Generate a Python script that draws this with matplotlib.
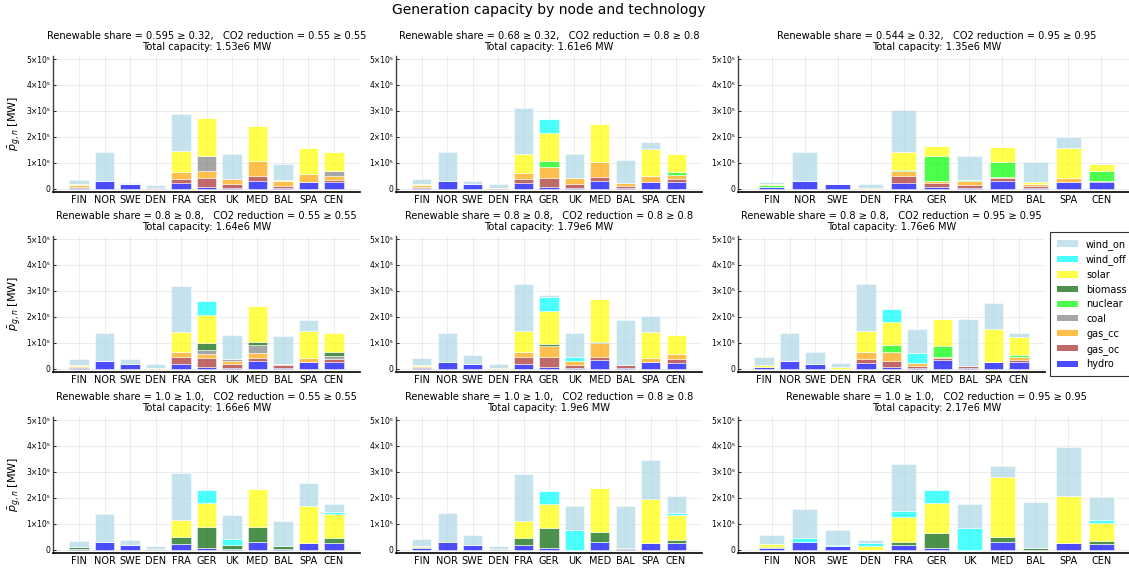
import matplotlib
matplotlib.use("Agg")
import matplotlib.pyplot as plt
import numpy as np
from matplotlib.patches import Patch

plt.rcParams['font.family'] = ['DejaVu Sans']

nodes = ["FIN", "NOR", "SWE", "DEN", "FRA", "GER", "UK", "MED", "BAL", "SPA", "CEN"]
techs = ["hydro", "gas_oc", "gas_cc", "coal", "nuclear", "biomass", "solar", "wind_off", "wind_on"]
tech_colors = {
    "wind_on": "lightblue", "wind_off": "cyan", "solar": "yellow",
    "biomass": "darkgreen", "nuclear": "lime", "coal": "gray",
    "gas_cc": "orange", "gas_oc": "brown", "hydro": "blue",
}
legend_order = ["wind_on", "wind_off", "solar", "biomass", "nuclear", "coal", "gas_cc", "gas_oc", "hydro"]

renewable_share = ["0.595 ≥ 0.32", "0.68 ≥ 0.32", "0.544 ≥ 0.32",
                   "0.8 ≥ 0.8", "0.8 ≥ 0.8", "0.8 ≥ 0.8",
                   "1.0 ≥ 1.0", "1.0 ≥ 1.0", "1.0 ≥ 1.0"]
co2_reduction = ["0.55 ≥ 0.55", "0.8 ≥ 0.8", "0.95 ≥ 0.95"] * 3

# Capacities in GW per node (FIN..CEN), one dict per scenario
cap_1 = {
    "hydro":    [4, 28, 17, 0, 21, 6, 2, 31, 3, 26, 26],
    "gas_oc":   [4, 0, 0, 2, 18, 34, 15, 17, 9, 0, 9],
    "gas_cc":   [5, 0, 0, 0, 27, 29, 22, 57, 16, 31, 14],
    "coal":     [0, 0, 0, 0, 0, 57, 0, 0, 0, 0, 18],
    "nuclear":  [0, 0, 0, 0, 0, 0, 0, 0, 0, 0, 0],
    "biomass":  [0, 0, 0, 0, 0, 0, 0, 0, 0, 0, 0],
    "solar":    [5, 0, 0, 0, 79, 146, 0, 135, 4, 99, 74],
    "wind_off": [0, 0, 0, 0, 0, 0, 0, 0, 0, 0, 0],
    "wind_on":  [15, 112, 4, 12, 145, 0, 93, 0, 63, 0, 0],
}
cap_2 = {
    "hydro":    [4, 30, 18, 0, 21, 6, 2, 31, 3, 26, 24],
    "gas_oc":   [3, 0, 0, 3, 18, 35, 16, 15, 9, 0, 12],
    "gas_cc":   [6, 0, 0, 0, 21, 43, 24, 57, 10, 24, 17],
    "coal":     [0, 0, 0, 0, 0, 0, 0, 0, 0, 0, 0],
    "nuclear":  [0, 0, 0, 0, 0, 23, 0, 0, 0, 0, 13],
    "biomass":  [0, 0, 0, 0, 0, 0, 0, 0, 0, 0, 0],
    "solar":    [5, 0, 0, 0, 72, 106, 0, 148, 0, 103, 68],
    "wind_off": [0, 0, 0, 0, 0, 54, 0, 0, 0, 0, 0],
    "wind_on":  [19, 110, 12, 14, 179, 0, 92, 0, 90, 27, 0],
}
cap_3 = {
    "hydro":    [5, 30, 17, 0, 21, 6, 2, 31, 3, 26, 24],
    "gas_oc":   [0, 0, 0, 0, 27, 17, 13, 11, 9, 0, 7],
    "gas_cc":   [0, 0, 0, 3, 21, 7, 15, 3, 7, 16, 0],
    "coal":     [0, 0, 0, 0, 0, 0, 0, 0, 0, 0, 0],
    "nuclear":  [10, 0, 0, 0, 4, 97, 5, 57, 0, 0, 37],
    "biomass":  [0, 0, 0, 0, 0, 0, 0, 0, 0, 0, 0],
    "solar":    [4, 0, 0, 0, 67, 38, 0, 59, 8, 115, 27],
    "wind_off": [0, 0, 0, 0, 0, 0, 0, 0, 0, 0, 0],
    "wind_on":  [5, 110, 2, 15, 162, 0, 90, 0, 76, 42, 0],
}
cap_4 = {
    "hydro":    [3, 28, 17, 0, 19, 5, 2, 31, 4, 24, 24],
    "gas_oc":   [4, 0, 0, 0, 26, 35, 15, 11, 9, 0, 12],
    "gas_cc":   [5, 0, 0, 4, 18, 15, 12, 17, 6, 18, 0],
    "coal":     [0, 0, 0, 0, 0, 19, 9, 32, 0, 0, 14],
    "nuclear":  [0, 0, 0, 0, 0, 0, 0, 0, 0, 0, 0],
    "biomass":  [0, 0, 0, 0, 0, 27, 0, 12, 0, 0, 14],
    "solar":    [4, 0, 0, 0, 78, 107, 0, 137, 0, 103, 75],
    "wind_off": [0, 0, 0, 0, 0, 54, 0, 0, 0, 0, 0],
    "wind_on":  [20, 110, 21, 14, 178, 0, 93, 0, 107, 43, 0],
}
cap_5 = {
    "hydro":    [4, 27, 17, 0, 19, 5, 2, 32, 3, 24, 23],
    "gas_oc":   [4, 0, 0, 0, 27, 39, 12, 13, 10, 0, 14],
    "gas_cc":   [4, 0, 0, 3, 19, 44, 15, 54, 0, 16, 21],
    "coal":     [0, 0, 0, 0, 0, 0, 0, 0, 0, 0, 0],
    "nuclear":  [0, 0, 0, 0, 0, 0, 0, 0, 0, 0, 0],
    "biomass":  [0, 0, 0, 0, 0, 8, 0, 5, 0, 0, 0],
    "solar":    [4, 0, 0, 0, 80, 127, 0, 164, 0, 100, 73],
    "wind_off": [0, 0, 0, 0, 0, 53, 17, 0, 0, 0, 0],
    "wind_on":  [25, 111, 37, 16, 180, 8, 91, 0, 176, 64, 0],
}
cap_6 = {
    "hydro":    [6, 28, 17, 0, 21, 5, 2, 33, 3, 24, 24],
    "gas_oc":   [2, 0, 0, 0, 17, 24, 10, 7, 7, 0, 8],
    "gas_cc":   [0, 0, 0, 0, 25, 36, 9, 4, 0, 3, 15],
    "coal":     [0, 0, 0, 0, 0, 0, 0, 0, 0, 0, 0],
    "nuclear":  [0, 0, 0, 0, 0, 27, 0, 44, 0, 0, 7],
    "biomass":  [0, 0, 0, 0, 0, 0, 0, 0, 0, 0, 0],
    "solar":    [6, 0, 0, 6, 83, 87, 0, 104, 0, 126, 70],
    "wind_off": [0, 0, 0, 0, 0, 52, 41, 0, 0, 0, 0],
    "wind_on":  [32, 110, 48, 16, 181, 0, 92, 0, 181, 100, 13],
}
cap_7 = {
    "hydro":    [3, 28, 18, 0, 21, 6, 2, 31, 3, 26, 24],
    "gas_oc":   [0, 0, 0, 0, 0, 0, 0, 0, 0, 0, 0],
    "gas_cc":   [0, 0, 0, 0, 0, 0, 0, 0, 0, 0, 0],
    "coal":     [0, 0, 0, 0, 0, 0, 0, 0, 0, 0, 0],
    "nuclear":  [0, 0, 0, 0, 0, 0, 0, 0, 0, 0, 0],
    "biomass":  [9, 0, 0, 2, 28, 83, 16, 55, 11, 0, 22],
    "solar":    [0, 0, 0, 0, 65, 90, 0, 148, 0, 144, 92],
    "wind_off": [0, 0, 0, 0, 0, 51, 23, 0, 0, 0, 7],
    "wind_on":  [21, 111, 21, 13, 181, 0, 93, 0, 95, 86, 31],
}
cap_8 = {
    "hydro":    [5, 30, 17, 0, 19, 6, 0, 31, 2, 26, 24],
    "gas_oc":   [0, 0, 0, 0, 0, 0, 0, 0, 0, 0, 0],
    "gas_cc":   [0, 0, 0, 0, 0, 0, 0, 0, 0, 0, 0],
    "coal":     [0, 0, 0, 0, 0, 0, 0, 0, 0, 0, 0],
    "nuclear":  [0, 0, 0, 0, 0, 0, 0, 0, 0, 0, 0],
    "biomass":  [6, 0, 0, 3, 27, 79, 0, 38, 6, 0, 12],
    "solar":    [4, 0, 0, 0, 65, 90, 0, 170, 0, 171, 99],
    "wind_off": [0, 0, 0, 0, 0, 51, 77, 0, 0, 0, 6],
    "wind_on":  [26, 110, 41, 12, 180, 0, 91, 0, 162, 149, 66],
}
cap_9 = {
    "hydro":    [6, 28, 15, 0, 18, 6, 0, 30, 0, 24, 23],
    "gas_oc":   [0, 0, 0, 0, 0, 0, 0, 0, 0, 0, 0],
    "gas_cc":   [0, 0, 0, 0, 0, 0, 0, 0, 0, 0, 0],
    "coal":     [0, 0, 0, 0, 0, 0, 0, 0, 0, 0, 0],
    "nuclear":  [0, 0, 0, 0, 0, 0, 0, 0, 0, 0, 0],
    "biomass":  [4, 0, 0, 0, 13, 60, 0, 18, 5, 0, 12],
    "solar":    [11, 0, 0, 14, 95, 113, 0, 231, 0, 184, 68],
    "wind_off": [0, 18, 3, 10, 22, 53, 84, 0, 0, 0, 10],
    "wind_on":  [34, 111, 58, 13, 183, 0, 92, 43, 179, 188, 91],
}
scenarios = [cap_1, cap_2, cap_3, cap_4, cap_5, cap_6, cap_7, cap_8, cap_9]

W, H = 1129, 570
fig = plt.figure(figsize=(W / 100, H / 100), dpi=100)
fig.text(549 / W, 1 - 10 / H, "Generation capacity by node and technology",
         ha="center", va="center", fontsize=10)

col_left = [53, 396, 738]
row_top = [55.7, 235.7, 416.7]
ax_h = 136.3
widths = [[307, 306, 397], [307, 306, 307], [307, 306, 397]]

x = np.arange(len(nodes))
for i, cap in enumerate(scenarios):
    r, c = divmod(i, 3)
    left, top, w = col_left[c], row_top[r], widths[r][c]
    ax = fig.add_axes([left / W, 1 - (top + ax_h) / H, w / W, ax_h / H])
    bottom = np.zeros(len(nodes))
    for t in techs:
        vals = np.array(cap[t], dtype=float) * 1e3
        ax.bar(x, vals, width=0.75, bottom=bottom, color=tech_colors[t], alpha=0.7,
               edgecolor=(1, 1, 1, 0.25), linewidth=0.5, zorder=3)
        bottom += vals
    total = sum(sum(v) for v in cap.values()) * 1e3
    ax.set_title(f"Renewable share = {renewable_share[i]},   CO2 reduction = {co2_reduction[i]}\n"
                 f"Total capacity: {round(total / 1e6, 2):g}e6 MW",
                 fontsize=7.1, pad=4, linespacing=1.1)
    ax.set_xlim(-1.02, 11.02)
    ax.set_ylim(-12.7e3, 513e3)
    ax.set_xticks(x)
    ax.set_xticklabels(nodes, fontsize=7)
    yt = [0, 1e5, 2e5, 3e5, 4e5, 5e5]
    ax.set_yticks(yt)
    ax.set_yticklabels(["0"] + [f"{k}×10⁵" for k in range(1, 6)], fontsize=5.5)
    ax.tick_params(axis="both", direction="in", length=2.5, width=0.6, pad=2, colors="black")
    ax.tick_params(axis="x", length=0)
    ax.grid(True, color="black", alpha=0.1, linewidth=0.5, zorder=0)
    for s in ("top", "right"):
        ax.spines[s].set_visible(False)
    ax.spines["left"].set_color("#404040")
    ax.spines["left"].set_linewidth(1.0)
    ax.spines["bottom"].set_color("black")
    ax.spines["bottom"].set_linewidth(1.2)
    if c == 0:
        ax.set_ylabel(r"$\bar{p}_{g,n}$ [MW]", fontsize=8, labelpad=2)

handles = [Patch(facecolor=tech_colors[t], alpha=0.7, edgecolor="none", label=t) for t in legend_order]
leg = fig.legend(handles=handles, loc="upper left",
                 bbox_to_anchor=(1050 / W, 1 - 232 / H), fontsize=7,
                 frameon=True, fancybox=False, edgecolor="black",
                 handlelength=2.17, handleheight=0.62, labelspacing=0.47,
                 borderpad=0.72, handletextpad=0.82, borderaxespad=0)
leg.get_frame().set_linewidth(0.8)

fig.savefig("out.png", dpi=100)
